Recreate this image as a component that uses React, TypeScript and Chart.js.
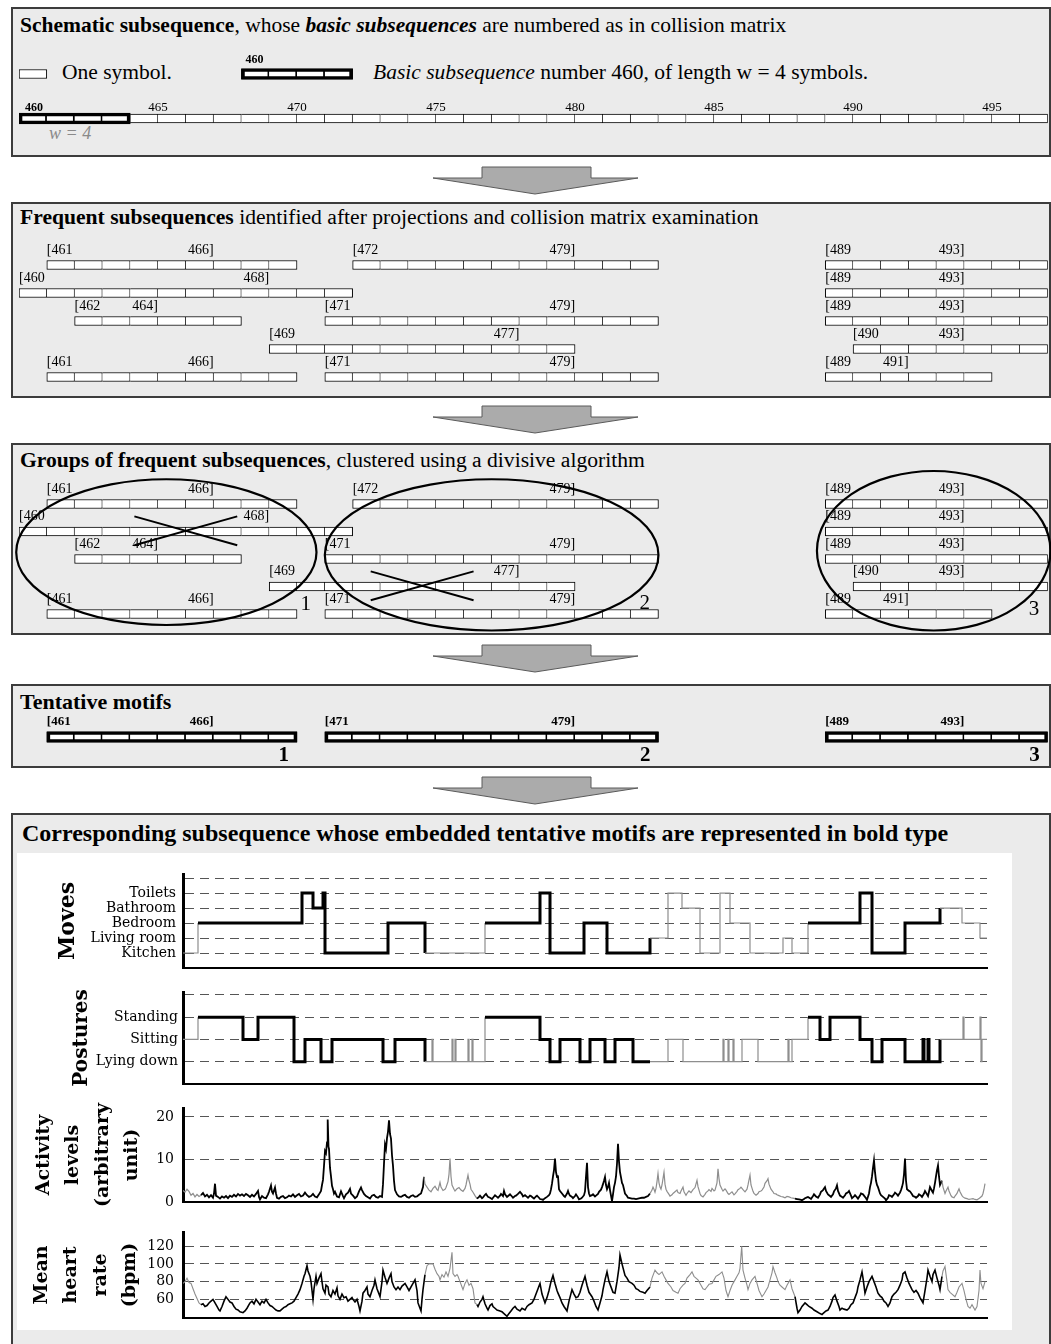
import React, { useEffect, useRef } from "react";
import { Chart, registerables } from "chart.js";

Chart.register(...registerables);

// ===================== DATA =====================
// schematic subsequence (symbol numbers)
const symbolFirst = 460;
const symbolLast = 496;
const basicLength = 4;
const symbolTickLabels = [460, 465, 470, 475, 480, 485, 490, 495];

// frequent subsequences found after projections: row, first number, last number, length in symbols
const freqRow = [0, 0, 0, 1, 1, 2, 2, 2, 3, 3, 4, 4, 4];
const freqFirst = [461, 472, 489, 460, 489, 462, 471, 489, 469, 490, 461, 471, 489];
const freqLast = [466, 479, 493, 468, 493, 464, 479, 493, 477, 493, 466, 479, 491];
const freqSymbols = [9, 11, 8, 12, 8, 6, 12, 8, 11, 7, 9, 12, 6];
// subsequences crossed out by the divisive clustering (indices above)
const discardedIdx = [3, 8];
const groupNames = ["1", "2", "3"];

// tentative motifs
const motifFirst = [461, 471, 489];
const motifLast = [466, 479, 493];
const motifSymbols = [9, 12, 8];

// time series (time in minutes from start of subsequence)
const timeMax = 804;
const moveLevels = ["Kitchen", "Living room", "Bedroom", "Bathroom", "Toilets"];
const postureLevels = ["Lying down", "Sitting", "Standing"];
const activityTicks = [0, 10, 20];
const heartTicks = [60, 80, 100, 120];

const behaviourMotifSpans = [[15, 242], [302, 467], [625, 757]];
const signalMotifSpans = [[17, 241], [294, 467], [612, 759]];

const moveSteps = [
  [0, 1], [15, 3], [119, 5], [130, 4], [140, 5], [142, 1], [205, 3], [242, 1], [302, 3], [357, 5],
  [367, 1], [401, 3], [424, 1], [467, 2], [485, 5], [499, 4], [517, 1], [537, 5], [547, 3], [567, 1],
  [600, 2], [609, 1], [625, 3], [677, 5], [689, 1], [722, 3], [757, 4], [779, 3], [797, 2], [804, 2],
];

const postureSteps = [
  [0, 2], [15, 3], [60, 2], [75, 3], [111, 1], [122, 2], [138, 1], [149, 2], [200, 1], [212, 2],
  [242, 1], [249, 2], [250, 1], [269, 2], [270, 1], [272, 2], [273, 1], [285, 2], [286, 1], [289, 2],
  [290, 1], [302, 3], [357, 2], [367, 1], [377, 2], [397, 1], [407, 2], [422, 1], [432, 2], [450, 1],
  [467, 1], [485, 2], [500, 1], [540, 2], [541, 1], [545, 2], [546, 1], [550, 2], [551, 1], [559, 2],
  [575, 1], [605, 2], [606, 1], [609, 2], [625, 3], [637, 2], [647, 3], [677, 2], [689, 1], [699, 2],
  [722, 1], [740, 2], [741, 1], [745, 2], [746, 1], [757, 2], [780, 3], [781, 2], [797, 3], [798, 1],
  [799, 2], [804, 2],
];

const activity = [
  [0, 2.7], [2, 2.3], [4, 3.0], [6, 2.5], [8, 1.6], [10, 2.0], [12, 1.2], [14, 1.8], [16, 1.3], [18, 1.6],
  [20, 2.1], [22, 1.3], [24, 1.7], [26, 1.1], [28, 1.6], [30, 1.0], [31, 2.0], [32, 4.3], [33, 1.5], [35, 1.2],
  [37, 0.8], [39, 1.3], [41, 1.0], [43, 1.4], [45, 0.9], [47, 1.5], [49, 1.2], [51, 1.7], [53, 1.3], [55, 1.9],
  [57, 1.5], [59, 1.8], [61, 1.4], [63, 1.9], [65, 1.6], [67, 1.2], [69, 1.7], [71, 1.3], [73, 1.9], [75, 2.6],
  [76, 1.2], [77, 0.6], [79, 1.4], [81, 1.0], [83, 0.9], [85, 1.8], [86, 2.4], [88, 3.9], [89, 2.4], [90, 2.0],
  [92, 3.4], [93, 2.0], [94, 1.0], [96, 0.8], [98, 1.2], [100, 1.4], [102, 0.9], [104, 1.1], [106, 1.5], [108, 1.3],
  [110, 1.8], [112, 1.2], [114, 1.6], [116, 1.9], [118, 1.3], [120, 1.5], [122, 2.2], [124, 1.6], [126, 1.2], [128, 1.4],
  [130, 1.9], [132, 1.3], [134, 1.1], [136, 1.8], [138, 2.6], [139, 4.0], [140, 5.2], [141, 8.5], [142, 12.0], [143, 11.5],
  [144, 14.0], [144.7, 19.4], [145.5, 13.0], [146, 12.5], [147, 8.0], [148, 6.0], [149, 3.8], [150, 3.0], [151, 2.0], [152, 2.4],
  [154, 1.3], [156, 1.1], [158, 2.5], [160, 1.4], [161, 0.9], [163, 1.8], [165, 2.2], [167, 3.1], [168, 2.0], [170, 1.5],
  [172, 0.9], [174, 1.3], [176, 2.5], [178, 3.4], [179, 2.8], [181, 1.9], [183, 1.4], [185, 1.1], [187, 0.8], [189, 1.5],
  [191, 1.7], [193, 1.2], [195, 1.0], [197, 1.4], [199, 1.2], [200, 4.2], [201, 9.0], [202, 13.5], [203, 12.5], [204, 15.0],
  [205, 16.5], [206, 19.2], [207, 16.0], [208, 14.9], [209, 11.0], [210, 8.5], [211, 5.0], [212, 2.8], [214, 1.8], [216, 1.3],
  [218, 1.2], [220, 1.5], [222, 1.7], [224, 1.2], [226, 1.0], [228, 1.4], [230, 1.6], [232, 1.2], [234, 1.3], [236, 1.7],
  [238, 2.0], [240, 3.5], [241, 5.9], [242, 4.2], [244, 3.5], [246, 2.8], [248, 2.4], [250, 3.2], [252, 3.7], [254, 2.9],
  [255, 2.7], [257, 4.6], [258, 3.5], [260, 2.7], [262, 3.0], [263, 3.4], [265, 4.8], [266, 6.5], [267, 10.2], [268, 6.0],
  [269, 4.0], [271, 3.0], [272, 2.6], [274, 3.1], [276, 3.4], [278, 2.8], [280, 2.5], [282, 3.2], [283, 4.0], [284, 5.2],
  [285, 6.3], [286, 5.0], [287, 4.2], [288, 3.0], [290, 2.3], [292, 1.5], [294, 0.8], [296, 1.2], [297, 1.5], [299, 0.9],
  [300, 1.1], [302, 1.7], [303, 1.9], [305, 1.2], [307, 1.0], [309, 0.7], [311, 1.3], [312, 1.6], [314, 1.2], [315, 1.0],
  [317, 1.5], [318, 1.9], [320, 1.4], [321, 2.6], [322, 1.8], [324, 1.2], [326, 1.6], [327, 1.8], [329, 1.3], [330, 1.0],
  [332, 1.4], [333, 1.5], [335, 1.9], [337, 2.4], [339, 1.8], [340, 1.3], [342, 1.6], [344, 1.2], [345, 1.0], [347, 1.5],
  [348, 1.4], [350, 1.0], [351, 0.8], [353, 1.3], [354, 1.5], [356, 1.0], [357, 0.7], [359, 0.6], [360, 0.5], [362, 0.9],
  [364, 1.2], [366, 1.6], [367, 2.0], [368, 3.0], [369, 4.3], [370, 6.0], [371, 7.5], [372, 10.2], [373, 7.0], [374, 5.9],
  [375, 6.0], [376, 3.0], [377, 2.6], [379, 2.0], [381, 1.4], [382, 1.2], [384, 2.0], [385, 2.6], [386, 1.9], [387, 1.5],
  [389, 1.2], [390, 0.9], [392, 1.4], [393, 1.8], [395, 1.1], [396, 0.6], [398, 0.8], [399, 1.0], [401, 1.6], [402, 2.5],
  [403, 6.0], [404, 9.2], [405, 3.5], [406, 2.0], [407, 1.4], [409, 1.6], [410, 1.8], [412, 1.3], [413, 1.5], [415, 1.9],
  [416, 2.4], [418, 2.9], [419, 3.5], [420, 4.2], [421, 5.0], [422, 5.9], [423, 4.0], [424, 3.0], [425, 3.6], [426, 4.5],
  [427, 2.8], [428, 1.5], [429, 0.2], [430, 1.8], [431, 3.5], [432, 4.5], [433, 6.0], [434, 9.0], [435, 13.7], [436, 9.5],
  [437, 7.0], [438, 5.8], [439, 4.5], [440, 4.0], [441, 3.0], [442, 2.0], [444, 1.4], [445, 1.0], [447, 0.9], [449, 0.8],
  [451, 0.8], [453, 0.7], [455, 0.8], [457, 0.9], [459, 1.0], [461, 1.0], [463, 1.2], [465, 1.4], [467, 2.0], [469, 2.8],
  [470, 3.5], [471, 3.0], [472, 2.3], [473, 3.2], [474, 4.8], [475, 6.7], [476, 4.5], [477, 3.5], [478, 3.0], [479, 4.0],
  [480, 5.5], [481, 7.0], [482, 4.2], [483, 3.0], [484, 2.5], [486, 1.8], [487, 1.4], [489, 1.7], [490, 2.0], [492, 2.4],
  [494, 2.8], [495, 2.2], [497, 2.0], [498, 2.6], [500, 3.5], [501, 2.4], [503, 1.6], [504, 2.0], [506, 2.6], [508, 2.2],
  [510, 2.9], [512, 3.4], [514, 5.1], [515, 3.6], [517, 2.0], [518, 1.5], [520, 1.2], [522, 1.8], [523, 2.2], [525, 2.6],
  [526, 2.9], [528, 2.5], [529, 3.2], [531, 2.6], [532, 2.8], [534, 4.5], [535, 7.8], [536, 5.5], [537, 4.0], [539, 3.0],
  [540, 2.6], [542, 3.1], [543, 2.8], [545, 2.0], [546, 1.8], [548, 2.2], [549, 2.4], [551, 1.7], [552, 1.9], [554, 2.5],
  [555, 2.9], [557, 3.2], [558, 3.5], [560, 2.9], [562, 2.4], [564, 3.0], [565, 4.0], [566, 5.2], [567, 6.3], [568, 4.0],
  [570, 2.5], [571, 2.0], [573, 1.6], [575, 2.0], [576, 2.4], [578, 2.6], [579, 2.8], [581, 3.5], [582, 4.4], [584, 5.0],
  [585, 5.5], [586, 4.2], [588, 3.0], [590, 2.4], [591, 2.0], [593, 1.9], [594, 1.7], [596, 1.5], [598, 1.3], [600, 1.2],
  [602, 1.0], [604, 1.3], [606, 1.2], [608, 1.0], [610, 0.9], [612, 0.8], [614, 0.7], [616, 0.6], [618, 0.5], [619, 0.4],
  [621, 0.7], [622, 0.9], [624, 1.1], [625, 1.2], [627, 0.9], [628, 0.7], [630, 1.4], [631, 1.8], [633, 1.3], [635, 1.0],
  [637, 1.8], [638, 2.4], [640, 2.8], [642, 3.5], [643, 2.6], [645, 1.8], [647, 1.4], [648, 1.2], [650, 1.8], [651, 2.5],
  [653, 3.2], [654, 3.9], [655, 2.6], [657, 1.5], [659, 1.2], [660, 1.0], [662, 1.6], [663, 2.0], [665, 2.3], [666, 2.6],
  [668, 1.5], [669, 0.9], [671, 1.3], [672, 1.6], [674, 1.1], [675, 0.8], [677, 1.5], [678, 2.0], [680, 1.8], [681, 1.5],
  [683, 0.9], [684, 0.5], [686, 2.0], [687, 3.5], [688, 4.5], [689, 6.0], [690, 8.0], [691, 9.8], [692, 7.0], [693, 5.0],
  [694, 4.0], [695, 3.5], [697, 2.0], [698, 1.6], [700, 1.2], [702, 0.8], [703, 0.4], [705, 1.0], [706, 1.6], [708, 1.4],
  [709, 1.2], [711, 1.8], [712, 2.2], [714, 1.8], [715, 1.5], [717, 2.2], [718, 2.8], [719, 3.5], [720, 4.5], [721, 6.5],
  [722, 10.2], [723, 5.0], [724, 3.0], [726, 2.6], [727, 2.5], [729, 1.8], [730, 1.4], [732, 1.2], [733, 1.0], [735, 1.4],
  [736, 1.8], [738, 1.5], [739, 1.2], [741, 2.0], [742, 2.6], [744, 1.8], [745, 1.4], [746, 2.4], [747, 3.5], [749, 2.6],
  [750, 2.2], [751, 3.2], [752, 4.5], [753, 6.0], [754, 7.5], [755, 8.6], [756, 6.0], [757, 4.0], [758, 4.5], [759, 5.0],
  [760, 3.5], [762, 2.0], [763, 2.6], [765, 3.5], [766, 2.6], [768, 1.5], [769, 1.2], [771, 1.0], [772, 1.4], [774, 2.0],
  [775, 2.6], [776, 3.1], [777, 2.4], [779, 1.5], [780, 1.2], [782, 0.9], [784, 0.8], [786, 0.6], [788, 0.7], [790, 0.8],
  [792, 0.6], [794, 0.5], [796, 0.8], [797, 1.0], [799, 1.4], [800, 2.0], [801, 3.0], [802, 4.3],
];

const heartRate = [
  [0, 78], [2, 80], [4, 84], [6, 79], [8, 78], [10, 72], [12, 66], [14, 61], [16, 56], [18, 54],
  [20, 55], [22, 52], [24, 53], [26, 56], [28, 58], [30, 60], [32, 56], [34, 52], [36, 48], [37, 47],
  [39, 52], [41, 58], [43, 63], [45, 60], [47, 57], [49, 56], [51, 52], [53, 49], [55, 48], [57, 46],
  [60, 45], [62, 47], [64, 50], [66, 54], [67, 56], [69, 58], [71, 55], [73, 60], [75, 57], [77, 54],
  [79, 58], [81, 56], [83, 60], [85, 56], [87, 53], [89, 52], [91, 50], [93, 48], [95, 47], [97, 47],
  [99, 49], [101, 51], [103, 52], [105, 54], [107, 55], [109, 56], [111, 58], [113, 62], [115, 66], [117, 71],
  [119, 78], [121, 86], [122, 89], [124, 98], [125, 92], [127, 86], [128, 80], [129, 70], [130, 60], [131, 72],
  [133, 86], [134, 78], [136, 84], [138, 89], [139, 80], [140, 72], [142, 67], [143, 76], [145, 74], [146, 66],
  [148, 63], [150, 70], [152, 66], [154, 73], [155, 64], [157, 60], [159, 66], [161, 62], [163, 63], [165, 58],
  [167, 60], [169, 62], [170, 60], [172, 57], [174, 60], [176, 52], [177, 47], [179, 58], [180, 67], [182, 70],
  [184, 74], [185, 66], [187, 63], [189, 70], [191, 76], [192, 82], [194, 72], [196, 66], [197, 63], [199, 80],
  [200, 93], [202, 85], [204, 78], [206, 84], [208, 89], [209, 80], [211, 74], [213, 71], [215, 74], [217, 71],
  [219, 75], [221, 77], [222, 78], [224, 74], [226, 70], [227, 72], [229, 76], [231, 80], [232, 82], [234, 70],
  [235, 56], [237, 50], [238, 47], [239, 60], [240, 71], [242, 88], [244, 98], [246, 100], [248, 100], [250, 100],
  [252, 94], [254, 89], [256, 86], [257, 82], [259, 88], [261, 85], [263, 91], [265, 86], [267, 95], [269, 113],
  [270, 89], [272, 86], [274, 88], [275, 86], [277, 80], [279, 74], [280, 71], [282, 78], [284, 82], [286, 76],
  [288, 78], [290, 72], [292, 56], [294, 54], [295, 52], [297, 57], [299, 60], [300, 63], [302, 55], [304, 50],
  [305, 48], [307, 53], [309, 55], [310, 52], [312, 50], [314, 48], [317, 47], [319, 46], [321, 44], [324, 41],
  [326, 44], [328, 47], [330, 50], [332, 52], [334, 49], [337, 47], [339, 50], [342, 48], [344, 52], [346, 54],
  [349, 56], [351, 60], [353, 66], [355, 72], [357, 78], [359, 66], [362, 56], [364, 62], [366, 70], [368, 80],
  [370, 87], [372, 78], [374, 70], [375, 67], [377, 62], [379, 56], [381, 52], [384, 47], [386, 58], [389, 71],
  [391, 66], [393, 62], [395, 63], [397, 68], [399, 76], [402, 86], [404, 76], [406, 68], [409, 63], [411, 58],
  [413, 52], [415, 48], [417, 56], [419, 64], [420, 71], [422, 82], [424, 91], [426, 80], [429, 71], [430, 68],
  [432, 67], [434, 80], [436, 96], [437, 110], [439, 100], [442, 87], [444, 84], [446, 80], [449, 78], [451, 76],
  [453, 72], [455, 71], [457, 69], [460, 68], [462, 67], [464, 70], [467, 74], [469, 84], [472, 93], [474, 90],
  [476, 88], [479, 91], [481, 86], [483, 82], [485, 78], [488, 74], [490, 70], [493, 68], [495, 67], [497, 72],
  [500, 76], [502, 78], [504, 84], [507, 88], [509, 91], [511, 86], [513, 84], [515, 82], [518, 76], [520, 72],
  [522, 71], [524, 74], [526, 77], [529, 78], [531, 82], [533, 86], [536, 88], [539, 91], [541, 84], [543, 70],
  [545, 63], [547, 70], [549, 76], [552, 82], [554, 86], [556, 90], [557, 95], [558.7, 120], [560, 93], [562, 84],
  [564, 76], [565, 71], [567, 78], [569, 82], [572, 86], [574, 78], [576, 70], [579, 63], [581, 66], [583, 70],
  [585, 74], [587, 82], [589, 90], [590, 97], [592, 90], [594, 84], [595, 80], [597, 76], [599, 74], [602, 71],
  [604, 76], [606, 80], [607, 82], [609, 72], [611, 66], [612, 63], [614, 50], [615, 45], [617, 48], [619, 52],
  [622, 56], [624, 54], [626, 52], [629, 50], [631, 48], [634, 46], [637, 44], [639, 43], [641, 45], [643, 47],
  [645, 48], [647, 52], [649, 58], [650, 62], [652, 65], [654, 58], [656, 52], [657, 48], [659, 50], [661, 49],
  [664, 48], [666, 50], [668, 54], [670, 56], [672, 62], [674, 68], [675, 74], [677, 82], [679, 91], [680, 84],
  [682, 67], [684, 74], [686, 80], [689, 86], [691, 80], [693, 74], [695, 67], [697, 64], [699, 62], [701, 58],
  [703, 56], [705, 52], [707, 56], [709, 63], [711, 66], [713, 68], [715, 71], [717, 76], [719, 82], [720, 89],
  [722, 91], [724, 84], [726, 78], [729, 71], [731, 68], [733, 70], [735, 67], [737, 62], [739, 58], [740, 56],
  [742, 70], [744, 84], [745, 93], [747, 86], [749, 80], [750, 88], [752, 93], [754, 84], [756, 76], [757, 71],
  [759, 86], [760, 92], [762, 97], [764, 80], [765, 71], [767, 68], [769, 66], [772, 63], [774, 68], [776, 74],
  [779, 78], [781, 70], [783, 60], [785, 52], [787, 50], [789, 54], [792, 48], [794, 52], [796, 70], [797, 93],
  [798, 78], [800, 72], [802, 80],
];

// ===================== STYLE / LAYOUT =====================
const SERIF = '"Liberation Serif", "Times New Roman", serif';
const PANEL_BG = "#ebebeb";
const PANEL_BORDER = "#3c3c3c";
const GRAY_LINE = "#8e8e8e";

const inSpans = (spans, t) => spans.some(([a, b]) => t >= a && t < b);

function cellPoints(first, count, row) {
  const out = [];
  for (let k = 0; k < count; k++) out.push({ x: [first + k, first + k + 1], y: row, lead: k === 0 });
  return out;
}

function cellDataset(points, bold, order) {
  return {
    type: "bar",
    data: points,
    backgroundColor: "#ffffff",
    borderColor: "#000000",
    borderWidth: bold ? 2 : 1,
    borderSkipped: (c) => (c.raw && c.raw.lead ? false : "left"),
    barThickness: bold ? 10 : 9,
    grouped: false,
    order,
  };
}

function outlineDataset(spans, order) {
  return {
    type: "bar",
    data: spans.map((s) => ({ x: [s[0], s[0] + s[1]], y: s[2] })),
    backgroundColor: "rgba(0,0,0,0)",
    borderColor: "#000000",
    borderWidth: 3,
    borderSkipped: false,
    barThickness: 11,
    grouped: false,
    order,
  };
}

function txt(ctx, s, x, y, font, align, color = "#000") {
  ctx.save();
  ctx.font = font;
  ctx.textAlign = align;
  ctx.textBaseline = "middle";
  ctx.fillStyle = color;
  ctx.fillText(s, x, y);
  ctx.restore();
}

function cellChartConfig(datasets, canvasH, row0, rowStep, nRows, draw) {
  const top = row0 - rowStep / 2;
  return {
    type: "bar",
    data: { datasets },
    options: {
      indexAxis: "y",
      responsive: false,
      animation: false,
      events: [],
      layout: { padding: { left: 19, right: 3.3, top, bottom: canvasH - top - rowStep * nRows } },
      scales: {
        x: { type: "linear", min: symbolFirst, max: symbolLast + 1, display: false, beginAtZero: false, offset: false },
        y: { type: "linear", min: -0.5, max: nRows - 0.5, reverse: true, display: false, offset: false },
      },
      plugins: { legend: { display: false }, tooltip: { enabled: false } },
    },
    plugins: [{ id: "annot", afterDatasetsDraw: (chart) => draw(chart) }],
  };
}

// ---- panel 1 : schematic subsequence ----
function panel1Config(h) {
  const allSymbols = cellPoints(symbolFirst, symbolLast - symbolFirst + 1, 1);
  const firstBasic = cellPoints(symbolFirst, basicLength, 1);
  const legendOne = cellPoints(symbolFirst, 1, 0);
  const legendBasic = cellPoints(468, basicLength, 0);
  return cellChartConfig(
    [
      outlineDataset([[symbolFirst, basicLength, 1], [468, basicLength, 0]], 0),
      cellDataset([...firstBasic, ...legendBasic], true, 1),
      cellDataset([...allSymbols, ...legendOne], false, 2),
    ],
    h, 65, 44.5, 2,
    (chart) => {
      const { ctx } = chart;
      const x = chart.scales.x;
      const y = chart.scales.y;
      symbolTickLabels.forEach((v, i) => {
        if (i === 0) txt(ctx, String(v), x.getPixelForValue(v) + 6, y.getPixelForValue(1) - 11, "bold 12px " + SERIF, "left");
        else txt(ctx, String(v), x.getPixelForValue(v), y.getPixelForValue(1) - 11, "13px " + SERIF, "center");
      });
      txt(ctx, String(symbolFirst), x.getPixelForValue(468) + 4, y.getPixelForValue(0) - 14, "bold 12px " + SERIF, "left");
    }
  );
}

function freqDatasets() {
  const pts = [];
  freqRow.forEach((r, i) => pts.push(...cellPoints(freqFirst[i], freqSymbols[i], r)));
  return [cellDataset(pts, false, 0)];
}

function drawFreqLabels(chart) {
  const { ctx } = chart;
  const x = chart.scales.x;
  const y = chart.scales.y;
  freqRow.forEach((r, i) => {
    const yy = y.getPixelForValue(r) - 15;
    txt(ctx, "[" + freqFirst[i], x.getPixelForValue(freqFirst[i]), yy, "14px " + SERIF, "left");
    txt(ctx, freqLast[i] + "]", x.getPixelForValue(freqLast[i] + 1), yy, "14px " + SERIF, "right");
  });
}

function panel2Config(h) {
  return cellChartConfig(freqDatasets(), h, 61, 28, 5, drawFreqLabels);
}

// ellipse annotations (symbol units / row units) and group label anchors
const groupEllipses = [
  [465.3, 1.75, 5.4, 2.65],
  [477.0, 1.85, 6.0, 2.75],
  [492.9, 1.70, 4.2, 2.9],
];
const groupLabelAnchors = [
  [470.5, 3.67],
  [482.7, 3.6],
  [496.7, 3.85],
];

function panel3Config(h) {
  return cellChartConfig(freqDatasets(), h, 59, 27.5, 5, (chart) => {
    drawFreqLabels(chart);
    const { ctx } = chart;
    const x = chart.scales.x;
    const y = chart.scales.y;
    ctx.save();
    ctx.strokeStyle = "#000";
    ctx.lineWidth = 2.2;
    groupEllipses.forEach(([cx, cy, rx, ry]) => {
      const px = x.getPixelForValue(cx);
      const py = y.getPixelForValue(cy);
      const prx = x.getPixelForValue(cx + rx) - px;
      const pry = Math.abs(y.getPixelForValue(cy + ry) - py);
      ctx.beginPath();
      ctx.ellipse(px, py, prx, pry, 0, 0, Math.PI * 2);
      ctx.stroke();
    });
    // crosses over discarded subsequences
    ctx.lineWidth = 2;
    discardedIdx.forEach((i) => {
      const mid = freqFirst[i] + freqSymbols[i] / 2;
      const x1 = x.getPixelForValue(mid - 1.85);
      const x2 = x.getPixelForValue(mid + 1.85);
      const y1 = y.getPixelForValue(freqRow[i] - 0.55);
      const y2 = y.getPixelForValue(freqRow[i] + 0.5);
      ctx.beginPath();
      ctx.moveTo(x1, y1);
      ctx.lineTo(x2, y2);
      ctx.moveTo(x1, y2);
      ctx.lineTo(x2, y1);
      ctx.stroke();
    });
    ctx.restore();
    groupNames.forEach((g, i) => {
      txt(ctx, g, x.getPixelForValue(groupLabelAnchors[i][0]), y.getPixelForValue(groupLabelAnchors[i][1]), "21px " + SERIF, "right");
    });
  });
}

function panel4Config(h) {
  const pts = [];
  motifFirst.forEach((f, i) => pts.push(...cellPoints(f, motifSymbols[i], 0)));
  return cellChartConfig(
    [outlineDataset(motifFirst.map((f, i) => [f, motifSymbols[i], 0]), 0), cellDataset(pts, true, 1)],
    h, 51, 20, 1,
    (chart) => {
      const { ctx } = chart;
      const x = chart.scales.x;
      const y = chart.scales.y;
      const yy = y.getPixelForValue(0);
      motifFirst.forEach((f, i) => {
        txt(ctx, "[" + f, x.getPixelForValue(f), yy - 15, "bold 13px " + SERIF, "left");
        txt(ctx, motifLast[i] + "]", x.getPixelForValue(motifLast[i] + 1), yy - 15, "bold 13px " + SERIF, "right");
        txt(ctx, groupNames[i], x.getPixelForValue(f + motifSymbols[i]) - 8, yy + 19, "bold 21px " + SERIF, "right");
      });
    }
  );
}

// ---- time series charts ----
function seriesConfig(o) {
  return {
    type: "line",
    data: {
      datasets: [
        {
          data: o.points.map(([t, v]) => ({ x: t, y: v })),
          stepped: o.stepped ? true : false,
          borderColor: "#000",
          borderWidth: o.blackW,
          pointRadius: 0,
          tension: 0,
          fill: false,
          segment: {
            borderColor: (c) => (inSpans(o.spans, c.p0.parsed.x) ? "#000" : GRAY_LINE),
            borderWidth: (c) => (inSpans(o.spans, c.p0.parsed.x) ? o.blackW : o.grayW),
          },
        },
      ],
    },
    options: {
      responsive: false,
      animation: false,
      events: [],
      layout: { padding: { left: 0, right: 25, top: 12, bottom: 8 } },
      plugins: { legend: { display: false }, tooltip: { enabled: false } },
      scales: {
        x: {
          type: "linear",
          min: 0,
          max: timeMax,
          ticks: { display: false },
          grid: { display: false },
          border: { display: true, color: "#000", width: 2 },
          afterFit: (s) => {
            s.height = 0;
            s.paddingLeft = 0;
            s.paddingRight = 0;
          },
        },
        y: {
          type: "linear",
          min: o.min,
          max: o.max,
          afterBuildTicks: (s) => {
            s.ticks = o.ticks.map((v) => ({ value: v }));
          },
          ticks: {
            callback: o.label,
            color: "#000",
            padding: o.tickPad,
            autoSkip: false,
            font: { family: "DejaVu Serif", size: 14 },
          },
          grid: {
            color: (c) => (c.tick && c.tick.value === o.min ? "rgba(0,0,0,0)" : "#555"),
            lineWidth: 1,
            drawTicks: false,
          },
          border: { display: true, color: "#000", width: 3, dash: [9, 6] },
          title: {
            display: true,
            text: o.title,
            color: "#000",
            font: { family: "DejaVu Serif", size: o.titleSize, weight: "bold", lineHeight: o.titleLH },
            padding: { top: o.titlePad, bottom: 0 },
          },
          afterFit: (s) => {
            s.width = 166;
            s.paddingTop = 0;
            s.paddingBottom = 0;
          },
        },
      },
    },
  };
}

const movesConfig = () =>
  seriesConfig({
    points: moveSteps, stepped: true, spans: behaviourMotifSpans, blackW: 3, grayW: 1.2,
    min: 0, max: 6.27, ticks: [1, 2, 3, 4, 5, 6], label: (v) => moveLevels[v - 1] || "",
    tickPad: 7, title: "Moves", titleSize: 22, titleLH: 1.2, titlePad: 38,
  });
const posturesConfig = () =>
  seriesConfig({
    points: postureSteps, stepped: true, spans: behaviourMotifSpans, blackW: 3, grayW: 1.2,
    min: 0, max: 4.13, ticks: [1, 2, 3, 4], label: (v) => postureLevels[v - 1] || "",
    tickPad: 5, title: "Postures", titleSize: 20, titleLH: 1.2, titlePad: 53,
  });
const activityConfig = () =>
  seriesConfig({
    points: activity, stepped: false, spans: signalMotifSpans, blackW: 1.8, grayW: 1.2,
    min: 0, max: 22.1, ticks: activityTicks, label: (v) => String(v),
    tickPad: 9, title: ["Activity", "levels", "(arbitrary", "unit)"], titleSize: 19, titleLH: 1.55, titlePad: 12,
  });
const heartConfig = () =>
  seriesConfig({
    points: heartRate, stepped: false, spans: signalMotifSpans, blackW: 1.6, grayW: 1.1,
    min: 39, max: 136, ticks: heartTicks, label: (v) => String(v),
    tickPad: 9, title: ["Mean", "heart", "rate", "(bpm)"], titleSize: 19, titleLH: 1.55, titlePad: 10,
  });

// ===================== COMPONENTS =====================
function ChartCanvas({ left, top, width, height, make }) {
  const ref = useRef(null);
  useEffect(() => {
    const chart = new Chart(ref.current, make(height));
    return () => chart.destroy();
  }, []);
  return (
    <canvas
      ref={ref}
      width={width}
      height={height}
      style={{ position: "absolute", left, top, width, height, display: "block" }}
    />
  );
}

function Panel({ top, height }) {
  return (
    <div
      style={{
        position: "absolute",
        left: 11,
        top,
        width: 1040,
        height,
        boxSizing: "border-box",
        border: "2px solid " + PANEL_BORDER,
        background: PANEL_BG,
      }}
    />
  );
}

function Text({ x, y, size, children, style = {} }) {
  return (
    <div
      style={{
        position: "absolute",
        left: x,
        top: y - size * 0.56,
        fontSize: size,
        lineHeight: size + "px",
        fontFamily: SERIF,
        whiteSpace: "nowrap",
        color: "#000",
        ...style,
      }}
    >
      {children}
    </div>
  );
}

function Arrows() {
  const tops = [167, 406, 645, 777];
  return (
    <svg width={1051} height={1344} style={{ position: "absolute", left: 0, top: 0 }}>
      {tops.map((y0) => (
        <polygon
          key={y0}
          points={`482,${y0} 591,${y0} 591,${y0 + 11} 638,${y0 + 11} 535,${y0 + 27} 433,${y0 + 11} 482,${y0 + 11}`}
          fill="#ababab"
          stroke="#5a5a5a"
          strokeWidth={1}
        />
      ))}
    </svg>
  );
}

export default function App() {
  return (
    <div
      style={{
        position: "absolute",
        left: 0,
        top: 0,
        width: 1051,
        height: 1344,
        background: "#fff",
        overflow: "hidden",
        fontFamily: SERIF,
      }}
    >
      <Arrows />
      <Panel top={7} height={150} />
      <Panel top={202} height={196} />
      <Panel top={443} height={192} />
      <Panel top={684} height={84} />
      <Panel top={813} height={540} />
      <div style={{ position: "absolute", left: 17, top: 853, width: 995, height: 477, background: "#fff" }} />

      <Text x={20} y={27} size={21.5}>
        <b>Schematic subsequence</b>, whose <b><i>basic subsequences</i></b> are numbered as in collision matrix
      </Text>
      <Text x={62} y={74} size={21.5}>One symbol.</Text>
      <Text x={373} y={74} size={21.5}>
        <i>Basic subsequence</i> number 460, of length w = 4 symbols.
      </Text>
      <Text x={49} y={134} size={18} style={{ color: "#8a8a8a", fontStyle: "italic" }}>
        w = 4
      </Text>
      <ChartCanvas left={0} top={9} width={1051} height={146} make={panel1Config} />

      <Text x={20} y={219} size={21.6}>
        <b>Frequent subsequences</b> identified after projections and collision matrix examination
      </Text>
      <ChartCanvas left={0} top={204} width={1051} height={192} make={panel2Config} />

      <Text x={20} y={462} size={21.6}>
        <b>Groups of frequent subsequences</b>, clustered using a divisive algorithm
      </Text>
      <ChartCanvas left={0} top={445} width={1051} height={188} make={panel3Config} />

      <Text x={20} y={703} size={22}>
        <b>Tentative motifs</b>
      </Text>
      <ChartCanvas left={0} top={686} width={1051} height={80} make={panel4Config} />

      <Text x={22} y={834} size={24}>
        <b>Corresponding subsequence whose embedded tentative motifs are represented in bold type</b>
      </Text>

      <ChartCanvas left={17} top={862} width={995} height={114} make={movesConfig} />
      <ChartCanvas left={17} top={980} width={995} height={112} make={posturesConfig} />
      <ChartCanvas left={17} top={1096} width={995} height={114} make={activityConfig} />
      <ChartCanvas left={17} top={1220} width={995} height={106} make={heartConfig} />
    </div>
  );
}
